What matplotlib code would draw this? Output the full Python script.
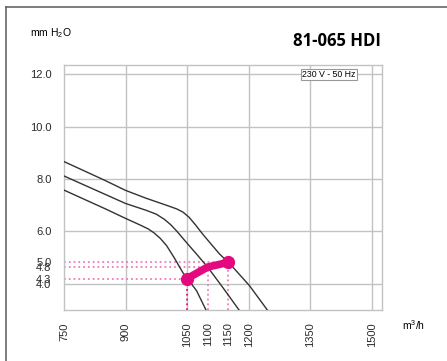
import matplotlib
matplotlib.use("Agg")
import matplotlib.pyplot as plt
from matplotlib.lines import Line2D

plt.rcParams['font.family'] = ['Liberation Sans', 'DejaVu Sans']
plt.rcParams['mathtext.fontset'] = 'custom'
plt.rcParams['mathtext.rm'] = 'Liberation Sans'

# fan curves (m3/h, mm H2O)
curve_hi_x = [750, 850, 900, 950, 1000, 1025, 1040, 1055, 1070, 1090, 1129, 1154, 1202, 1247]
curve_hi_y = [8.67, 7.95, 7.57, 7.27, 7.00, 6.86, 6.74, 6.54, 6.26, 5.86, 5.14, 4.77, 3.93, 2.97]

curve_mid_x = [750, 850, 900, 950, 975, 995, 1010, 1025, 1050, 1075, 1100, 1137, 1178]
curve_mid_y = [8.12, 7.42, 7.07, 6.81, 6.66, 6.46, 6.26, 6.01, 5.55, 5.10, 4.64, 3.86, 2.97]

curve_lo_x = [750, 850, 900, 935, 955, 970, 985, 1000, 1020, 1040, 1073, 1097]
curve_lo_y = [7.58, 6.87, 6.50, 6.25, 6.10, 5.94, 5.73, 5.46, 4.96, 4.42, 3.74, 2.97]

# operating points
op_x = [1050, 1100, 1150]
op_y = [4.20, 4.64, 4.82]
op_labels = ["4.3", "4.8", "5.0"]

grid_x = [900, 1050, 1200, 1350, 1500]
grid_y = [4, 6, 8, 10, 12]

xticks = [750, 900, 1050, 1100, 1150, 1200, 1350, 1500]
yticks = [4.0, 6.0, 8.0, 10.0, 12.0]
ytick_labels = ["4.0", "6.0", "8.0", "10.0", "12.0"]

pink = '#e5097f'
grid_col = '#c2c2c2'

fig = plt.figure(figsize=(4.47, 3.61), dpi=100)
ax = fig.add_axes([64 / 447, 51 / 361, 318 / 447, 245 / 361])
ax.set_xlim(750, 1525)
ax.set_ylim(3.0, 12.36)

for gx in grid_x:
    ax.axvline(gx, color=grid_col, lw=1.0, zorder=1)
for gy in grid_y:
    ax.axhline(gy, color=grid_col, lw=1.0, zorder=1)
for s in ax.spines.values():
    s.set_color(grid_col)
    s.set_linewidth(1.0)

# dotted guide lines to the operating points
for i, (px, py) in enumerate(zip(op_x, op_y)):
    c = pink if i == 0 else '#f27ab8'
    ax.plot([750, px], [py, py], ls=':', color='#f27ab8', lw=1.3, zorder=2)
    ax.plot([px, px], [3.0, py], ls=':', color=c, lw=1.3, zorder=2)

for cx, cy in [(curve_hi_x, curve_hi_y), (curve_mid_x, curve_mid_y), (curve_lo_x, curve_lo_y)]:
    ax.plot(cx, cy, color='#333333', lw=1.0, zorder=3, solid_joinstyle='round')

ax.plot(op_x, op_y, color=pink, lw=5.5, solid_capstyle='round', solid_joinstyle='round', zorder=4)
ax.plot([op_x[0], op_x[-1]], [op_y[0], op_y[-1]], 'o', color=pink, ms=8.5, zorder=5)

ax.set_xticks(xticks)
ax.set_xticklabels([str(v) for v in xticks], rotation=90, fontsize=8)
ax.set_yticks(yticks + op_y)
ax.set_yticklabels(ytick_labels + op_labels, fontsize=8)
ax.tick_params(axis='x', length=0, pad=9, colors='#2a2a2a')
ax.tick_params(axis='y', length=0, pad=9, colors='#2a2a2a')

ax.text(1395, 12.0, "230 V - 50 Hz", ha='center', va='center', fontsize=6.3, zorder=6,
        bbox=dict(boxstyle='square,pad=0.15', fc='white', ec='#999999', lw=0.8))

fig.text(30 / 447, 1 - 33 / 361, "mm H$_2$O", ha='left', va='center', fontsize=7.5)
fig.text(381 / 447, 1 - 41 / 361, "81-065 HDI", ha='right', va='center', fontsize=12,
         fontweight='bold', family=['Open Sans', 'DejaVu Sans'])
fig.text(402 / 447, 1 - 325 / 361, "m$^3$/h", ha='left', va='center', fontsize=7.5)

# outer frame (top and left only)
fig.add_artist(Line2D([6 / 447, 1], [1 - 7 / 361, 1 - 7 / 361], color='#666666', lw=1.2))
fig.add_artist(Line2D([6 / 447, 6 / 447], [0, 1 - 7 / 361], color='#666666', lw=1.2))

fig.savefig("out.png", dpi=100)
